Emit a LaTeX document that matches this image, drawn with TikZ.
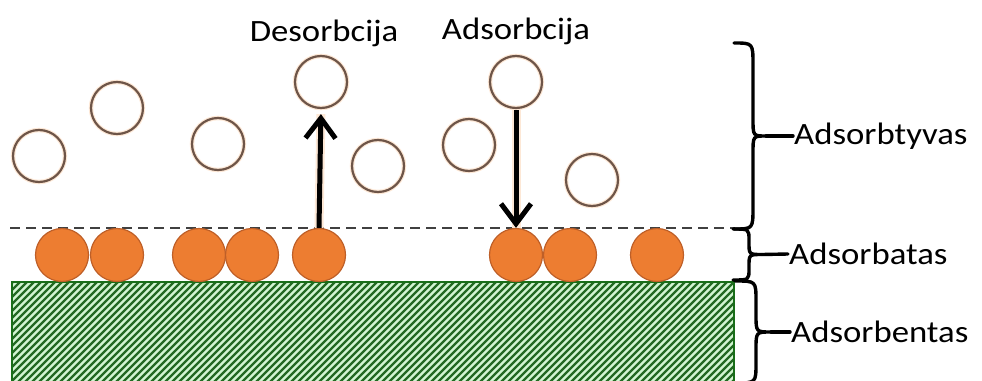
\documentclass[tikz,border=0pt]{standalone}
\usepackage{fontspec}
\setmainfont{Carlito}[FakeStretch=1.12]
\usetikzlibrary{arrows.meta}
\definecolor{orangef}{RGB}{237,125,49}
\definecolor{oranged}{RGB}{190,95,40}
\definecolor{gasc}{RGB}{110,85,72}
\definecolor{glowc}{RGB}{253,232,214}
\definecolor{greenbg}{RGB}{210,245,210}
\definecolor{greenln}{RGB}{35,105,35}
\definecolor{greenbd}{RGB}{25,110,25}
% #1 x of ends, #2 top y, #3 bottom y, #4 x of vertical part, #5 x of tip,
% #6 end curl radius, #7 middle curl radius, #8 name of tip coordinate
\newcommand\drawbrace[8]{%
  \pgfmathsetmacro\brMid{(#2+#3)/2}%
  \draw[bracestyle] (#1,#2) .. controls (#4,#2) .. (#4,#2+#6)
    -- (#4,\brMid-#7) .. controls (#4,\brMid) .. (#5,\brMid)
    .. controls (#4,\brMid) .. (#4,\brMid+#7)
    -- (#4,#3-#6) .. controls (#4,#3) .. (#1,#3);
  \coordinate (#8) at (#5,\brMid);
}
\begin{document}
\begin{tikzpicture}[x=1pt,y=-1pt,
  gas/.style={circle,draw=gasc,line width=2.2pt,minimum size=52pt,inner sep=0pt,
    preaction={draw=glowc,line width=4.5pt}},
  ads/.style={circle,fill=orangef,draw=oranged,line width=1.2pt,minimum size=53pt,inner sep=0pt},
  lbl/.style={font=\fontsize{31}{37}\selectfont,inner sep=1pt},
  bracestyle/.style={line width=3.4pt,line cap=round,line join=round},
  flow/.style={line width=5pt,-{Straight Barb[length=20pt,width=30pt]},
    preaction={draw=glowc,line width=9pt,-{}}},
  dashline/.style={draw=black!75,line width=1.8pt,dash pattern=on 10pt off 6pt}]
\useasboundingbox (0,0) rectangle (982,380);
% substrate
\fill[greenbg] (12,282) rectangle (734,382);
\begin{scope}
  \clip (12,282) rectangle (734,382);
  \foreach \i in {-110,-103,...,740} {
    \draw[greenln,line width=2.3pt] (\i,384) -- (\i+104,280);
  }
\end{scope}
\draw[greenbd,line width=2.5pt] (12,282) rectangle (734,382);
% dashed boundary
\draw[dashline] (10,228) -- (735,228);
% adsorbed particles
\node[ads] (o1) at (62,255) {};
\node[ads] (o2) at (117,255) {};
\node[ads] (o3) at (199,255) {};
\node[ads] (o4) at (252,255) {};
\node[ads] (o5) at (319,255) {};
\node[ads] (o6) at (516,255) {};
\node[ads] (o7) at (570,255) {};
\node[ads] (o8) at (657,255) {};
% gas particles
\node[gas] (g1) at (39,156) {};
\node[gas] (g2) at (117,108) {};
\node[gas] (g3) at (218,144) {};
\node[gas] (g4) at (321,82) {};
\node[gas] (g5) at (378,166) {};
\node[gas] (g6) at (469,145) {};
\node[gas] (g7) at (516,82) {};
\node[gas] (g8) at (592,180) {};
% arrows
\draw[flow,shorten >=5pt] (o5.north) -- (g4.south);
\draw[flow,shorten <=1pt] (g7.south) -- (o6.north);
% top labels
\node[lbl,anchor=base] (desl) at (324,41) {Desorbcija};
\node[lbl,anchor=base] (adsl) at (516,39) {Adsorbcija};
% right labels
\node[lbl,anchor=west] (l1) at (793,136) {Adsorbtyvas};
\node[lbl,anchor=west] (l2) at (788,254) {Adsorbatas};
\node[lbl,anchor=west] (l3) at (790,332) {Adsorbentas};
% braces
\drawbrace{734}{43}{229}{753}{766}{22}{17}{b1}
\drawbrace{733}{229}{280}{749}{762}{11}{12}{b2}
\drawbrace{735}{281}{383}{756}{771}{20}{17}{b3}
\draw[bracestyle] (b1) -- (l1.west);
\draw[bracestyle] (b2) -- (l2.west);
\draw[bracestyle] (b3) -- (l3.west);
\end{tikzpicture}
\end{document}
